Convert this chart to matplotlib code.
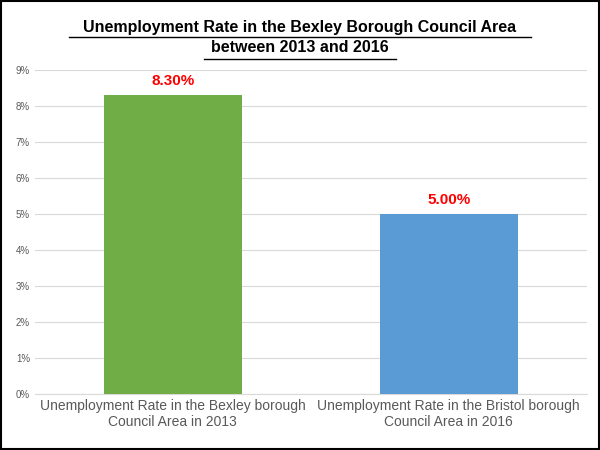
import matplotlib
matplotlib.use("Agg")
import matplotlib.pyplot as plt
from matplotlib.ticker import FuncFormatter

categories = ["Unemployment Rate in the Bexley borough\nCouncil Area in 2013",
              "Unemployment Rate in the Bristol borough\nCouncil Area in 2016"]
values = [8.30, 5.00]
colors = ["#70AD47", "#5B9BD5"]

plt.rcParams["font.family"] = "Liberation Sans"
fig = plt.figure(figsize=(6, 4.5), dpi=100)
ax = fig.add_axes([0.058, 0.124, 0.92, 0.72])
x = [0, 1]
ax.bar(x, values, width=0.5, color=colors, zorder=3)
ax.set_xlim(-0.5, 1.5)
ax.set_ylim(0, 9)
ax.set_yticks(range(0, 10))
ax.yaxis.set_major_formatter(FuncFormatter(lambda v, p: f"{int(v)}%"))
ax.tick_params(axis="y", labelsize=7, length=0, colors="#595959")
ax.set_xticks(x)
ax.set_xticklabels(categories, fontsize=10, color="#595959")
ax.tick_params(axis="x", length=0)
ax.grid(axis="y", color="#D9D9D9", linewidth=0.8, zorder=0)
for s in ["top", "right", "left"]:
    ax.spines[s].set_visible(False)
ax.spines["bottom"].set_color("#D9D9D9")
for xi, v in zip(x, values):
    ax.text(xi, v + 0.2, f"{v:.2f}%", ha="center", va="bottom", color="#FF0000",
            fontsize=11, fontweight="bold")
fig.text(0.5, 0.955, "Unemployment Rate in the Bexley Borough Council Area\nbetween 2013 and 2016",
         ha="center", va="top", fontsize=11.5, fontweight="bold", linespacing=1.4)
# underlines
for y, w in [(0.918, 0.77), (0.868, 0.32)]:
    fig.add_artist(plt.Line2D([0.5 - w / 2, 0.5 + w / 2], [y, y], color="black", linewidth=1,
                              transform=fig.transFigure))
fig.add_artist(plt.Rectangle((0.002, 0.002), 0.996, 0.996, fill=False, edgecolor="black",
                             linewidth=1.5, transform=fig.transFigure))
fig.savefig("out.png", dpi=100)
